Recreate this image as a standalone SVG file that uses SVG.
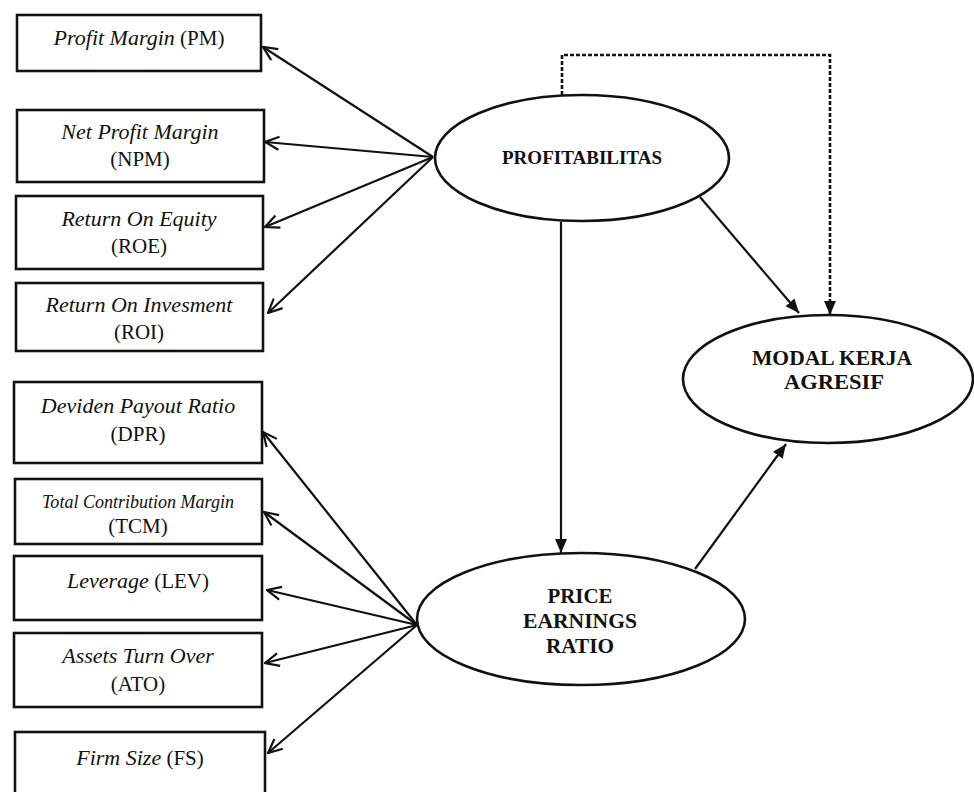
<svg xmlns="http://www.w3.org/2000/svg" width="974" height="792" viewBox="0 0 974 792">
  <style>
    .box { fill: #fff; stroke: #111; stroke-width: 2.6; }
    .oval { fill: #fff; stroke: #111; stroke-width: 2.6; }
    .lbl { font-family: "Liberation Serif", "Times New Roman", serif; font-size: 21px; fill: #111; text-anchor: middle; }
    .it { font-style: italic; font-size: 22px; }
    .cap { font-family: "Liberation Serif", "Times New Roman", serif; font-weight: bold; font-size: 21px; fill: #111; text-anchor: middle; }
    .ind { fill: none; stroke: #111; stroke-width: 2.2; marker-end: url(#open); }
    .path { fill: none; stroke: #111; stroke-width: 2.2; marker-end: url(#solid); }
    .dash { fill: none; stroke: #111; stroke-width: 2.6; stroke-dasharray: 4 2; marker-end: url(#solid); }
  </style>
  <defs>
    <marker id="open" viewBox="0 0 16 16" refX="15" refY="8" markerWidth="16" markerHeight="16" markerUnits="userSpaceOnUse" orient="auto">
      <path d="M1,1.5 L15,8 L1,14.5" fill="none" stroke="#111" stroke-width="2.2"/>
    </marker>
    <marker id="solid" viewBox="0 0 14 12" refX="14" refY="6" markerWidth="14" markerHeight="12" markerUnits="userSpaceOnUse" orient="auto">
      <path d="M0,0 L14,6 L0,12 Z" fill="#111"/>
    </marker>
  </defs>

  <rect width="974" height="792" fill="#fff"/>

  <!-- connectors -->
  <g id="connectors">
    <!-- PROFITABILITAS indicators -->
    <line class="ind" x1="433" y1="157" x2="263" y2="47"/>
    <line class="ind" x1="433" y1="157" x2="265" y2="142"/>
    <line class="ind" x1="433" y1="157" x2="265" y2="227"/>
    <line class="ind" x1="433" y1="157" x2="268" y2="313"/>
    <!-- PRICE EARNINGS RATIO indicators -->
    <line class="ind" x1="417" y1="625" x2="263" y2="432"/>
    <line class="ind" x1="417" y1="625" x2="264" y2="512"/>
    <line class="ind" x1="417" y1="625" x2="267" y2="590"/>
    <line class="ind" x1="417" y1="625" x2="265" y2="663"/>
    <line class="ind" x1="417" y1="625" x2="268" y2="753"/>
    <!-- structural paths -->
    <line class="path" x1="561" y1="222" x2="561" y2="553"/>
    <line class="path" x1="700" y1="197" x2="799" y2="313"/>
    <line class="path" x1="695" y1="569" x2="786" y2="444"/>
    <polyline class="dash" points="562,95 562,55 830,55 830,315"/>
  </g>

  <!-- indicator boxes -->
  <g id="pm">
    <rect class="box" x="17" y="15" width="244" height="56"/>
    <text class="lbl" x="139" y="45"><tspan class="it">Profit Margin</tspan> (PM)</text>
  </g>
  <g id="npm">
    <rect class="box" x="17" y="110" width="247" height="72"/>
    <text class="lbl it" x="140" y="139">Net Profit Margin</text>
    <text class="lbl" x="140" y="166">(NPM)</text>
  </g>
  <g id="roe">
    <rect class="box" x="16" y="196" width="247" height="73"/>
    <text class="lbl it" x="139" y="226">Return On Equity</text>
    <text class="lbl" x="139" y="253">(ROE)</text>
  </g>
  <g id="roi">
    <rect class="box" x="16" y="283" width="247" height="68"/>
    <text class="lbl it" x="139" y="312">Return On Invesment</text>
    <text class="lbl" x="139" y="339">(ROI)</text>
  </g>
  <g id="dpr">
    <rect class="box" x="14" y="382" width="248" height="81"/>
    <text class="lbl it" x="138" y="413">Deviden Payout Ratio</text>
    <text class="lbl" x="138" y="441">(DPR)</text>
  </g>
  <g id="tcm">
    <rect class="box" x="15" y="479" width="247" height="65"/>
    <text class="lbl it" x="138" y="508" style="font-size:19px" textLength="192" lengthAdjust="spacingAndGlyphs">Total Contribution Margin</text>
    <text class="lbl" x="138" y="533">(TCM)</text>
  </g>
  <g id="lev">
    <rect class="box" x="14" y="556" width="248" height="64"/>
    <text class="lbl" x="138" y="588"><tspan class="it">Leverage</tspan> (LEV)</text>
  </g>
  <g id="ato">
    <rect class="box" x="14" y="633" width="248" height="74"/>
    <text class="lbl it" x="138" y="663">Assets Turn Over</text>
    <text class="lbl" x="138" y="691">(ATO)</text>
  </g>
  <g id="fs">
    <rect class="box" x="15" y="732" width="250" height="80"/>
    <text class="lbl" x="140" y="765"><tspan class="it">Firm Size</tspan> (FS)</text>
  </g>

  <!-- latent constructs -->
  <g id="profitabilitas">
    <ellipse class="oval" cx="582" cy="158" rx="147" ry="63"/>
    <text class="cap" x="582" y="164" style="font-size:19px" textLength="160" lengthAdjust="spacingAndGlyphs">PROFITABILITAS</text>
  </g>
  <g id="modal-kerja">
    <ellipse class="oval" cx="828" cy="379" rx="145" ry="64"/>
    <text class="cap" x="832" y="365" textLength="160" lengthAdjust="spacingAndGlyphs">MODAL KERJA</text>
    <text class="cap" x="834" y="389" textLength="100" lengthAdjust="spacingAndGlyphs">AGRESIF</text>
  </g>
  <g id="price-earnings">
    <ellipse class="oval" cx="581" cy="619" rx="164" ry="66"/>
    <text class="cap" x="580" y="603" textLength="65" lengthAdjust="spacingAndGlyphs">PRICE</text>
    <text class="cap" x="580" y="628" textLength="114" lengthAdjust="spacingAndGlyphs">EARNINGS</text>
    <text class="cap" x="580" y="653" textLength="68" lengthAdjust="spacingAndGlyphs">RATIO</text>
  </g>
</svg>
